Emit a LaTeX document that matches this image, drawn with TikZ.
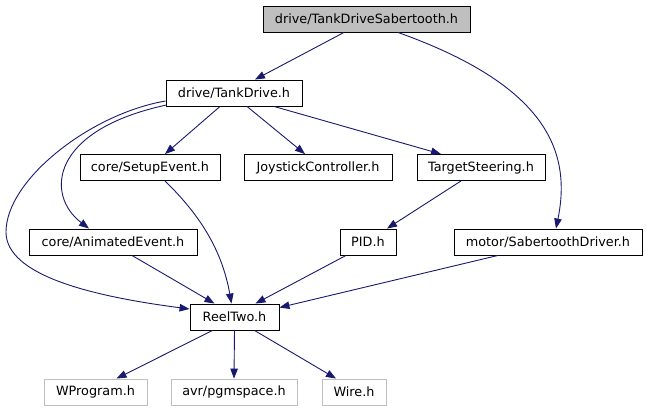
\documentclass[tikz,border=0pt]{standalone}
\usepackage{fontspec}
\setmainfont{DejaVu Sans}
\usetikzlibrary{arrows.meta}
\definecolor{edgeblue}{HTML}{191970}
\definecolor{boxgray}{HTML}{BFBFBF}
\begin{document}
\begin{tikzpicture}[x=1pt,y=-1pt,
  box/.style={draw=black,line width=0.9pt,fill=white,minimum height=26pt,inner sep=0pt,
    font=\fontsize{12.8}{15}\selectfont},
  ext/.style={box,draw=boxgray},
  cur/.style={box,fill=boxgray},
  edge/.style={draw=edgeblue,line width=0.9pt,-{Triangle[length=10pt,width=7.5pt]}}]
\useasboundingbox (0,0) rectangle (646,411);
\node[cur,minimum width=207pt] (top) at (366.5,19) {drive/TankDriveSabertooth.h};
\node[box,minimum width=136pt] (td) at (234,93) {drive/TankDrive.h};
\node[box,minimum width=140pt] (se) at (150,167.5) {core/SetupEvent.h};
\node[box,minimum width=148pt] (jc) at (318,167.5) {JoystickController.h};
\node[box,minimum width=128pt] (ts) at (481,167.5) {TargetSteering.h};
\node[box,minimum width=168pt] (ae) at (113,242) {core/AnimatedEvent.h};
\node[box,minimum width=56pt] (pid) at (368,242) {PID.h};
\node[box,minimum width=188pt] (sd) at (548,242) {motor/SabertoothDriver.h};
\node[box,minimum width=89pt] (rt) at (234.5,317) {ReelTwo.h};
\node[ext,minimum width=103pt] (wp) at (95.5,392) {WProgram.h};
\node[ext,minimum width=126pt] (avr) at (234,392) {avr/pgmspace.h};
\node[ext,minimum width=64pt] (wire) at (354,392) {Wire.h};
\coordinate (bend) at (6,232);

\draw[edge] ([xshift=-22.5pt]top.south) -- ([xshift=21pt]td.north);
\draw[edge] ([xshift=31.5pt]top.south) .. controls (545,85) and (572,150) .. ([xshift=8pt]sd.north);
\draw[edge] ([xshift=-14pt]td.south) -- ([xshift=15pt]se.north);
\draw[edge] ([xshift=13pt]td.south) -- ([xshift=-13pt]jc.north);
\draw[edge] ([xshift=40pt]td.south) -- ([xshift=-40pt]ts.north);
\draw[edge] ([yshift=-8pt]td.west) .. controls (90,114) and (6,180) .. (bend)
  .. controls (6,275) and (90,296) .. ([yshift=8pt]rt.west);
\draw[edge] ([xshift=1pt,yshift=-12pt]td.west) .. controls (50,130) and (45,195) .. ([xshift=-24pt]ae.north);
\draw[edge] ([xshift=15pt]se.south) .. controls (200,215) and (222,250) .. ([xshift=-3pt]rt.north);
\draw[edge] ([xshift=19pt]ae.south) -- ([xshift=-20pt]rt.north);
\draw[edge] ([xshift=-20pt]ts.south) -- ([xshift=19pt]pid.north);
\draw[edge] ([xshift=-22pt]pid.south) -- ([xshift=21pt]rt.north);
\draw[edge] ([xshift=-50pt]sd.south) -- ([yshift=-4pt]rt.north east);
\draw[edge] ([xshift=-22pt]rt.south) -- ([xshift=21pt]wp.north);
\draw[edge] (rt.south) -- (avr.north);
\draw[edge] ([xshift=20pt]rt.south) -- ([xshift=-18pt]wire.north);
\end{tikzpicture}
\end{document}
